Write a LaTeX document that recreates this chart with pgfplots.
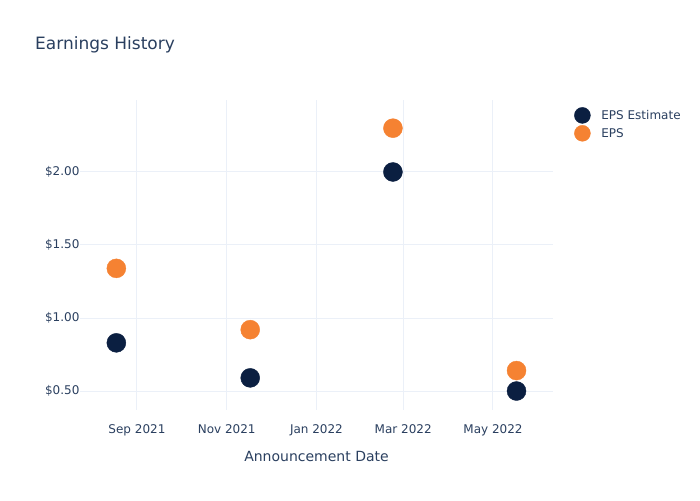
\documentclass[border=0pt]{standalone}
\usepackage{fontspec}
\setmainfont{DejaVu Sans}
\usepackage{pgfplots}
\pgfplotsset{compat=1.18}
\definecolor{txt}{HTML}{2A3F5F}
\definecolor{gridc}{HTML}{EBF0F8}
\definecolor{navy}{HTML}{0B1F41}
\definecolor{orng}{HTML}{F58232}
\begin{document}
\begin{tikzpicture}
\begin{axis}[
  name=ax,
  scale only axis, width=473pt, height=310pt,
  xmin=-160.7, xmax=160.8, ymin=0.37, ymax=2.493,
  axis line style={draw=none},
  tick style={draw=none},
  grid=major, grid style={gridc, line width=1pt},
  xtick={-122,-61,0,59,120},
  xticklabels={Sep 2021,Nov 2021,Jan 2022,Mar 2022,May 2022},
  ytick={0.5,1,1.5,2},
  yticklabels={\$0.50,\$1.00,\$1.50,\$2.00},
  ticklabel style={text=txt, font=\fontsize{12}{14}\selectfont},
  xticklabel style={yshift=-11pt},
  yticklabel style={xshift=3pt},
  xlabel={Announcement Date},
  xlabel style={text=txt, font=\fontsize{14}{16}\selectfont, yshift=-8pt},
  legend style={at={(1,1)}, anchor=north west, xshift=18pt, yshift=-5pt, draw=none, fill=none,
    font=\fontsize{12}{14}\selectfont, text=txt, row sep=1.5pt},
  legend cell align=left,
  legend image code/.code={\fill[#1] (5pt,0) circle (8pt); \path[draw=none,fill=none] (0,0) -- (22pt,0);},
]
\addplot[only marks, mark=*, mark size=9.5pt, color=navy, mark options={fill=navy, draw=none}]
  coordinates {(-136,0.83) (-45,0.59) (52,2.00) (136,0.50)};
\addlegendentry{EPS Estimate}
\addplot[only marks, mark=*, mark size=9.5pt, color=orng, mark options={fill=orng, draw=none}]
  coordinates {(-136,1.34) (-45,0.92) (52,2.30) (136,0.64)};
\addlegendentry{EPS}
\coordinate (sw) at (rel axis cs:0,0);
\end{axis}
\pgfresetboundingbox
\path[use as bounding box] (sw) ++(-80pt,-90pt) rectangle ++(700pt,500pt);
\node[anchor=base west, text=txt, font=\fontsize{17}{20}\selectfont, inner sep=0pt] at ([shift={(-45pt,360pt)}]sw) {Earnings History};
\end{tikzpicture}
\end{document}
